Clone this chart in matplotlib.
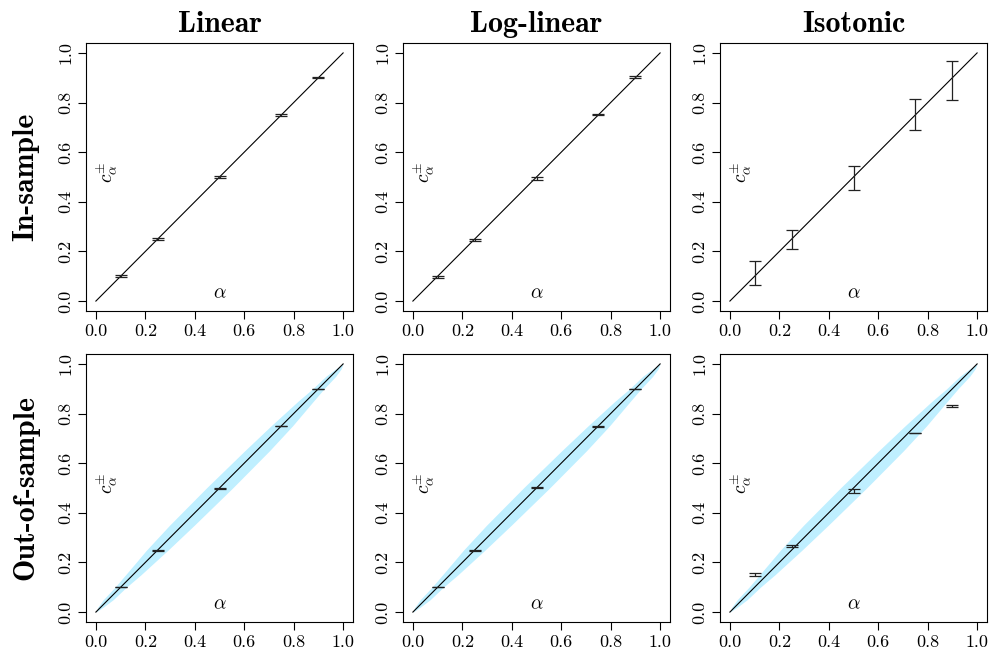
import numpy as np
import matplotlib
matplotlib.use("Agg")
import matplotlib.pyplot as plt

plt.rcParams['font.family'] = 'cmr10'
plt.rcParams['mathtext.fontset'] = 'cm'
plt.rcParams['axes.formatter.use_mathtext'] = True

methods = ['Linear', 'Log-linear', 'Isotonic']
samples = ['In-sample', 'Out-of-sample']

alpha = [0.1, 0.25, 0.5, 0.75, 0.9]

# lower / upper end of each interval, per (sample, method)
lower = {
    ('In-sample', 'Linear'):         [0.097, 0.247, 0.497, 0.747, 0.898],
    ('In-sample', 'Log-linear'):     [0.093, 0.244, 0.488, 0.748, 0.900],
    ('In-sample', 'Isotonic'):       [0.063, 0.209, 0.447, 0.690, 0.810],
    ('Out-of-sample', 'Linear'):     [0.100, 0.248, 0.496, 0.748, 0.898],
    ('Out-of-sample', 'Log-linear'): [0.100, 0.248, 0.502, 0.747, 0.898],
    ('Out-of-sample', 'Isotonic'):   [0.146, 0.264, 0.481, 0.721, 0.825],
}
upper = {
    ('In-sample', 'Linear'):         [0.104, 0.253, 0.504, 0.753, 0.904],
    ('In-sample', 'Log-linear'):     [0.101, 0.252, 0.501, 0.755, 0.908],
    ('In-sample', 'Isotonic'):       [0.162, 0.286, 0.546, 0.814, 0.966],
    ('Out-of-sample', 'Linear'):     [0.102, 0.250, 0.498, 0.750, 0.900],
    ('Out-of-sample', 'Log-linear'): [0.102, 0.250, 0.504, 0.749, 0.900],
    ('Out-of-sample', 'Isotonic'):   [0.156, 0.272, 0.495, 0.723, 0.833],
}

# sampling band for the out-of-sample panels (horizontal extent at each level)
band_level = [0.0, 0.02, 0.05, 0.1, 0.15, 0.25, 0.35, 0.5, 0.65, 0.75, 0.85, 0.9, 0.95, 0.98, 1.0]
band_lo = [0.0, 0.008, 0.030, 0.077, 0.120, 0.205, 0.298, 0.447, 0.602, 0.708, 0.818, 0.877, 0.930, 0.970, 1.0]
band_hi = [0.0, 0.030, 0.070, 0.123, 0.182, 0.292, 0.398, 0.553, 0.702, 0.795, 0.880, 0.923, 0.970, 0.992, 1.0]

diag = [0.0, 1.0]
ticks = [0.0, 0.2, 0.4, 0.6, 0.8, 1.0]

fig = plt.figure(figsize=(9.92, 6.6), dpi=100)

col_left = [86, 403, 720]
row_top = [43, 354]
box_w, box_h = 267, 268
W, H = 992, 660

for r, samp in enumerate(samples):
    for c, meth in enumerate(methods):
        ax = fig.add_axes([col_left[c] / W, 1 - (row_top[r] + box_h) / H, box_w / W, box_h / H])
        ax.set_xlim(-0.04, 1.04)
        ax.set_ylim(-0.04, 1.04)

        if samp == 'Out-of-sample':
            ax.fill_betweenx(band_level, band_lo, band_hi, color='#BFEFFF', lw=0, zorder=1)
        ax.plot(diag, diag, color='black', lw=0.8, zorder=2)

        lo = np.array(lower[(samp, meth)])
        hi = np.array(upper[(samp, meth)])
        ax.errorbar(alpha, (lo + hi) / 2, yerr=(hi - lo) / 2, fmt='none',
                    ecolor='#222222', elinewidth=0.9, capthick=0.9, capsize=4.5, zorder=3)

        ax.set_xticks(ticks)
        ax.set_yticks(ticks)
        ax.set_xticklabels(['%.1f' % t for t in ticks])
        ax.set_yticklabels(['%.1f' % t for t in ticks], rotation=90, va='center')
        ax.tick_params(direction='out', length=6, width=0.8, labelsize=13, pad=3)
        for sp in ax.spines.values():
            sp.set_linewidth(0.8)

        ax.text(0.5, 0.03, r'$\alpha$', fontsize=14, ha='center', va='center')
        ax.text(0.045, 0.52, r'$c^{\pm}_{\alpha}$', fontsize=14, ha='center', va='center', rotation=90)

        if r == 0:
            ax.set_title(meth, fontsize=21.5, family='cmb10', pad=8)

for r, samp in enumerate(samples):
    yc = 1 - (row_top[r] + box_h / 2) / H
    fig.text(0.026, yc, samp, rotation=90, fontsize=21.5, family='cmb10', ha='center', va='center')

fig.savefig('out.png', dpi=100)
